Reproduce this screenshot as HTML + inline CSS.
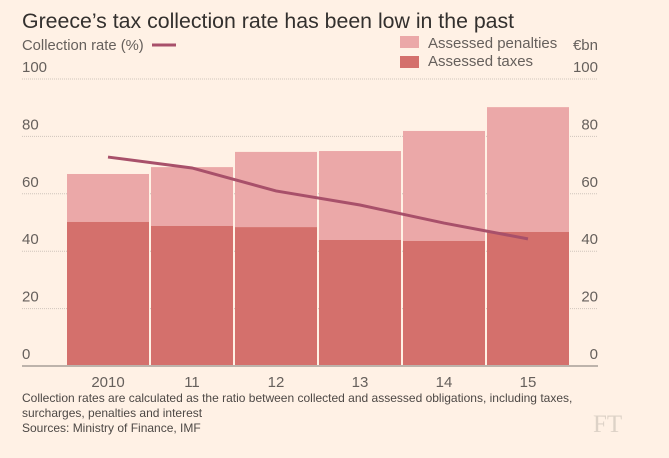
<!DOCTYPE html>
<html><head><meta charset="utf-8"><style>
body{margin:0;background:#fff1e5;font-family:"Liberation Sans",sans-serif;}
svg{display:block}
</style></head><body>
<svg width="669" height="458">
<rect width="669" height="458" fill="#fff1e5"/>
<text x="22" y="28" font-size="21.3" fill="#33302e">Greece’s tax collection rate has been low in the past</text>
<text x="22" y="50" font-size="14.8" fill="#66605c">Collection rate (%)</text>
<line x1="152" y1="45" x2="176" y2="45" stroke="#a8506a" stroke-width="3"/>
<rect x="400" y="36" width="19" height="12" fill="#eba8a8"/>
<text x="428" y="48" font-size="15" fill="#66605c">Assessed penalties</text>
<rect x="400" y="56" width="19" height="12" fill="#d4706c"/>
<text x="428" y="66" font-size="15" fill="#66605c">Assessed taxes</text>
<text x="598" y="50" font-size="15" fill="#66605c" text-anchor="end">€bn</text>
<g id="grid"></g><g id="bars"></g><g id="line"></g><g id="xlab"></g>
<text x="22" y="402" font-size="12" fill="#4d4845">Collection rates are calculated as the ratio between collected and assessed obligations, including taxes,</text>
<text x="22" y="417" font-size="12" fill="#4d4845">surcharges, penalties and interest</text>
<text x="22" y="432" font-size="12" fill="#4d4845">Sources: Ministry of Finance, IMF</text>
<text x="593" y="432" font-size="25" fill="#ddd2c7" font-family="Liberation Serif,serif">FT</text>
</svg>
<script>
const categories=["2010","11","12","13","14","15"];
const taxes=[50.2,48.8,48.4,43.9,43.6,46.7];
const totals=[66.9,69.3,74.6,74.9,81.9,90.2];
const rate=[72.8,69.0,61.0,56.1,49.8,44.3];
const ticks=[0,20,40,60,80,100];
const NS="http://www.w3.org/2000/svg";
const y=v=>366-v*2.87;
const bw=82,x0=67,step=84;
const bx=i=>x0+i*step;
function mk(t,a,p){const e=document.createElementNS(NS,t);for(const k in a)e.setAttribute(k,a[k]);p.appendChild(e);return e;}
const g=document.getElementById('grid');
ticks.forEach(t=>{
 if(t>0){const l=mk('line',{x1:22,x2:598,y1:y(t),y2:y(t),stroke:'#cfc5bc','stroke-dasharray':'1,1'},g);
 
 }
 const a=mk('text',{x:22,y:y(t)-7,'font-size':15,fill:'#66605c'},g);a.textContent=t;
 
 
 const b=mk('text',{x:598,y:y(t)-7,'font-size':15,fill:'#66605c','text-anchor':'end'},g);b.textContent=t;
 
 
});
const bg=document.getElementById('bars');
categories.forEach((c,i)=>{
 const p=mk('rect',{x:bx(i),width:bw,y:y(totals[i]),height:y(taxes[i])-y(totals[i]),fill:'#eba8a8'},bg);
 
 
 const t=mk('rect',{x:bx(i),width:bw,y:y(taxes[i]),height:366-y(taxes[i]),fill:'#d4706c'},bg);
 
 
 const l=mk('text',{x:bx(i)+bw/2,y:387,'font-size':15,fill:'#66605c','text-anchor':'middle'},document.getElementById('xlab'));
 l.textContent=c;
 
 
});
const ax=mk('line',{x1:22,x2:598,y1:366,y2:366,stroke:'#bdb3ab','stroke-width':2},bg);


const pl=mk('polyline',{points:rate.map((v,i)=>(bx(i)+bw/2)+','+y(v)).join(' '),fill:'none',stroke:'#a8506a','stroke-width':3},document.getElementById('line'));


</script>
</body></html>
